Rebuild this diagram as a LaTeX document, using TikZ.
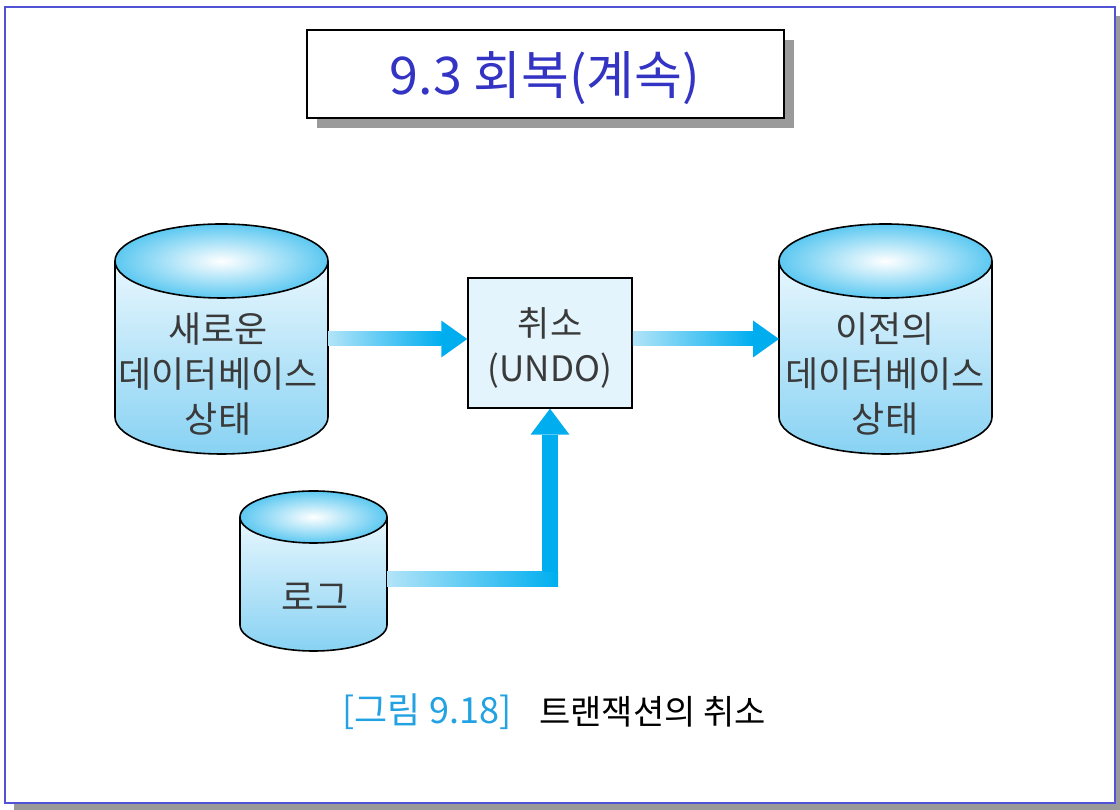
\documentclass[tikz,border=0pt]{standalone}
\usepackage{fontspec}
\setmainfont{Noto Sans CJK KR}
\usetikzlibrary{calc}
\definecolor{framecol}{HTML}{5252D6}
\definecolor{shadowgray}{HTML}{9A9A9A}
\definecolor{titleblue}{HTML}{3333C4}
\definecolor{txtgray}{HTML}{3A3A3A}
\definecolor{capblue}{HTML}{22A2E2}
\definecolor{cylbodytop}{HTML}{E8F7FE}
\definecolor{cylbodybot}{HTML}{88D2F3}
\definecolor{cyltop}{HTML}{5CC8F1}
\definecolor{arrcyan}{HTML}{00AEEF}
\definecolor{arrlight}{HTML}{B2E4F8}
\definecolor{boxfill}{HTML}{E3F4FC}
\tikzset{
  cylline/.style={draw=black, line width=1.6pt},
  holder/.style={inner sep=0pt, outer sep=0pt, draw=none},
  lbl/.style={text=txtgray, align=center, inner sep=0pt, font=\fontsize{36}{45}\selectfont},
  undobox/.style={draw=black, line width=1.5pt, fill=boxfill, inner sep=0pt},
}
\newcommand\dbcyl[5]{%
  \shade[top color=cylbodytop, bottom color=cylbodybot] ({#1-#4},#2) -- ({#1-#4},#3) arc[start angle=180,end angle=360,x radius=#4,y radius=#5] -- ({#1+#4},#2) -- cycle;
  \draw[cylline] ({#1-#4},#2) -- ({#1-#4},#3) arc[start angle=180,end angle=360,x radius=#4,y radius=#5] -- ({#1+#4},#2);
  \shade[inner color=white, outer color=cyltop] (#1,#2) ellipse[x radius=#4, y radius=#5];
  \draw[cylline] (#1,#2) ellipse[x radius=#4, y radius=#5];
}
\newcommand\harrow[2]{%
  \shade[left color=arrlight, right color=arrcyan] let \p1=#1, \p2=#2 in (\x1,\y1-7pt) rectangle (\x2-26pt,\y1+7pt);
  \fill[arrcyan] let \p1=#1, \p2=#2 in (\x2-26pt,\y1-18.5pt) -- (\x2,\y1) -- (\x2-26pt,\y1+18.5pt) -- cycle;
}
\begin{document}
\begin{tikzpicture}[x=1pt,y=1pt]
\useasboundingbox (0,0) rectangle (1120,810);
% outer frame
\fill[shadowgray] (14,-2) rectangle (1124,794);
\draw[framecol, line width=2pt, fill=white] (5,7) rectangle (1115,803);
% title
\fill[shadowgray] (317,682) rectangle (794,770);
\node[draw=black, line width=1.5pt, fill=white, inner sep=0pt, minimum width=477pt, minimum height=88pt] (title) at (545.5,736) {};
\node[text=titleblue, inner sep=0pt, font=\fontsize{52}{60}\selectfont] (titletext) at (545,732) {9.3 회복(계속)};
% cylinders
\dbcyl{221.5}{549}{393}{106.5}{37}
\dbcyl{885.5}{549}{393}{106.5}{37}
\dbcyl{313.5}{293}{185}{73.5}{26}
\node[holder, minimum width=213pt, minimum height=230pt] (newdb) at (221.5,471) {};
\node[holder, minimum width=213pt, minimum height=230pt] (olddb) at (885.5,471) {};
\node[holder, minimum width=147pt, minimum height=160pt] (log) at (313.5,239) {};
\node[lbl] (newdbtext) at (218,436) {새로운\\데이터베이스\\상태};
\node[lbl] (olddbtext) at (885,436) {이전의\\데이터베이스\\상태};
\node[lbl] (logtext) at (315,213) {로그};
% undo box
\node[undobox, minimum width=164pt, minimum height=130pt] (undo) at (550,467) {};
\node[lbl, font=\fontsize{35}{45}\selectfont] (undotext) at (550,462) {취소\\(UNDO)};
% arrows
\harrow{(newdb.east)}{(undo.west |- newdb.east)}
\harrow{(undo.east |- olddb.west)}{(olddb.west)}
\coordinate (logout) at ($(log.east)+(0,-8)$);
\coordinate (bend) at (undo.south |- logout);
\shade[left color=arrlight, right color=arrcyan] let \p1=(logout), \p2=(bend) in (\x1,\y1-7.5pt) rectangle (\x2+8pt,\y1+7.5pt);
\fill[arrcyan] let \p1=(bend), \p2=(undo.south) in (\x1-8pt,\y1+7pt) rectangle (\x1+8pt,\y2-26pt);
\fill[arrcyan] let \p2=(undo.south) in (\x2-19.5pt,\y2-26pt) -- (\x2,\y2) -- (\x2+19.5pt,\y2-26pt) -- cycle;
% caption
\node[text=capblue, inner sep=0pt, font=\fontsize{36}{40}\selectfont] (capnum) at (427,98) {[그림 9.18]};
\node[text=black, inner sep=0pt, font=\fontsize{34}{40}\selectfont] (captext) at (652.5,98) {트랜잭션의 취소};
\end{tikzpicture}
\end{document}
